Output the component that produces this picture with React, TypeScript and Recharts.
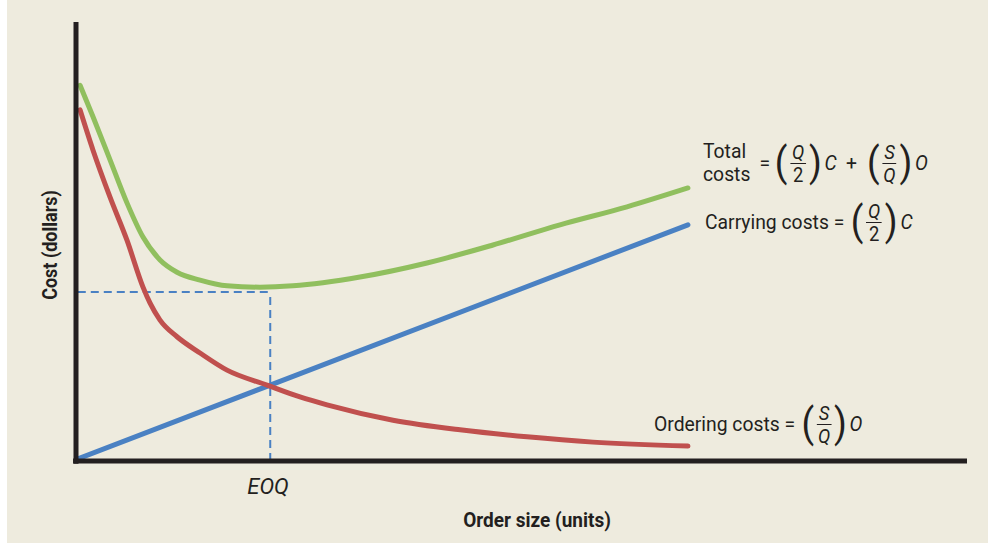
import React from 'react';
import { LineChart, Line, XAxis, YAxis, ReferenceLine } from 'recharts';

// order size (x) and cost (y), both on a 0-100 scale
const totalX = [0.45, 1.91, 3.82, 5.72, 7.52, 9.43, 11.34, 13.92, 16.95, 20.65, 24.35, 31.87, 39.39, 46.8, 54.32, 61.84, 68.68];
const totalCost = [85.6, 78.4, 68.6, 58.8, 51.0, 45.8, 43.0, 41.2, 39.9, 39.6, 39.9, 41.9, 45.1, 49.2, 53.8, 57.9, 62.2];

const orderingX = [0.45, 1.91, 3.82, 5.72, 7.52, 8.3, 9.43, 11.34, 13.92, 16.95, 21.44, 25.14, 28.17, 35.58, 43.1, 50.62, 58.02, 68.68];
const orderingCost = [80.0, 70.8, 60.1, 50.3, 39.6, 36.0, 32.1, 28.3, 24.6, 20.7, 17.3, 14.6, 12.8, 9.3, 7.1, 5.5, 4.3, 3.4];

const carryingX = [0.22, 21.8, 68.68];
const carryingCost = [0.5, 17.3, 53.8];

const EOQ_X = 21.8;
const EOQ_COST = 38.5;

const toRows = (xs: number[], ys: number[]) => xs.map((x, i) => ({ x, y: ys[i] }));

const GREEN = '#90bf5e';
const RED = '#c0504e';
const BLUE = '#4a81c3';
const INK = '#231f20';
const BG = '#eeebde';
const FONT = "Roboto, 'Noto Sans', sans-serif";

const Paren = ({ c }: { c: string }) => (
    <span style={{ fontSize: 40, lineHeight: '48px', display: 'inline-block', margin: '0 1px' }}>{c}</span>
);

const Frac = ({ top, bottom }: { top: string; bottom: string }) => (
    <span style={{ display: 'inline-flex', flexDirection: 'column', alignItems: 'center', margin: '0 2px', fontSize: 20 }}>
        <span style={{ fontStyle: 'italic', lineHeight: '22px', padding: '0 2px', borderBottom: `1.5px solid ${INK}` }}>{top}</span>
        <span style={{ fontStyle: top === 'Q' ? 'normal' : 'italic', lineHeight: '22px' }}>{bottom}</span>
    </span>
);

const Var = ({ c }: { c: string }) => <span style={{ fontStyle: 'italic', marginLeft: 2 }}>{c}</span>;

const row = (left: number, cy: number): React.CSSProperties => ({
    position: 'absolute',
    left,
    top: cy,
    transform: 'translateY(-50%) scaleX(0.92)',
    transformOrigin: 'left center',
    display: 'flex',
    alignItems: 'center',
    fontFamily: FONT,
    fontSize: 21,
    color: INK,
    whiteSpace: 'nowrap',
});

const axisStyle = { stroke: INK, strokeWidth: 5, ifOverflow: 'visible' as const };

export default function App() {
    return (
        <div style={{ position: 'relative', width: 988, height: 543, background: '#fff' }}>
            <style>{`body{margin:0}`}</style>
            <div style={{ position: 'absolute', left: 7, top: 0, width: 981, height: 543, background: BG }} />
            <div style={{ position: 'absolute', left: 0, top: 0 }}>
                <LineChart width={988} height={543} margin={{ top: 22, left: 76, right: 21, bottom: 82 }}>
                    <XAxis type="number" dataKey="x" domain={[0, 100]} allowDataOverflow hide />
                    <YAxis type="number" domain={[0, 100]} allowDataOverflow hide />
                    <ReferenceLine
                        segment={[{ x: 0.2, y: EOQ_COST }, { x: EOQ_X, y: EOQ_COST }]}
                        stroke={BLUE}
                        strokeWidth={2}
                        strokeDasharray="8 5"
                        ifOverflow="visible"
                    />
                    <ReferenceLine
                        segment={[{ x: EOQ_X, y: 0 }, { x: EOQ_X, y: EOQ_COST }]}
                        stroke={BLUE}
                        strokeWidth={2}
                        strokeDasharray="8 5"
                        ifOverflow="visible"
                    />
                    <Line data={toRows(carryingX, carryingCost)} dataKey="y" type="linear" stroke={BLUE} strokeWidth={5} strokeLinecap="round" dot={false} isAnimationActive={false} />
                    <Line data={toRows(orderingX, orderingCost)} dataKey="y" type="monotone" stroke={RED} strokeWidth={5} strokeLinecap="round" dot={false} isAnimationActive={false} />
                    <Line data={toRows(totalX, totalCost)} dataKey="y" type="monotone" stroke={GREEN} strokeWidth={5} strokeLinecap="round" dot={false} isAnimationActive={false} />
                    <ReferenceLine segment={[{ x: 0, y: -0.6 }, { x: 0, y: 100 }]} {...axisStyle} />
                    <ReferenceLine segment={[{ x: -0.33, y: 0 }, { x: 100, y: 0 }]} {...axisStyle} />
                </LineChart>
            </div>

            <div style={row(703, 163)}>
                <span style={{ display: 'inline-flex', flexDirection: 'column', lineHeight: '23px' }}>
                    <span>Total</span>
                    <span>costs</span>
                </span>
                <span style={{ margin: '0 4px 0 10px' }}>=</span>
                <Paren c="(" />
                <Frac top="Q" bottom="2" />
                <Paren c=")" />
                <Var c="C" />
                <span style={{ margin: '0 10px' }}>+</span>
                <Paren c="(" />
                <Frac top="S" bottom="Q" />
                <Paren c=")" />
                <Var c="O" />
            </div>

            <div style={row(705, 222)}>
                <span style={{ marginRight: 6 }}>Carrying costs =</span>
                <Paren c="(" />
                <Frac top="Q" bottom="2" />
                <Paren c=")" />
                <Var c="C" />
            </div>

            <div style={row(654, 424)}>
                <span style={{ marginRight: 6 }}>Ordering costs =</span>
                <Paren c="(" />
                <Frac top="S" bottom="Q" />
                <Paren c=")" />
                <Var c="O" />
            </div>

            <div style={{ position: 'absolute', left: 268, top: 486, transform: 'translate(-50%, -50%)', fontFamily: FONT, fontSize: 22, fontStyle: 'italic', color: INK }}>
                EOQ
            </div>
            <div style={{ position: 'absolute', left: 537, top: 520, transform: 'translate(-50%, -50%) scaleX(0.95)', fontFamily: FONT, fontSize: 20, fontWeight: 'bold', color: INK, whiteSpace: 'nowrap' }}>
                Order size (units)
            </div>
            <div style={{ position: 'absolute', left: 50, top: 245, transform: 'translate(-50%, -50%) rotate(-90deg) scaleX(0.9)', fontFamily: FONT, fontSize: 20, fontWeight: 'bold', color: INK, whiteSpace: 'nowrap' }}>
                Cost (dollars)
            </div>
        </div>
    );
}
